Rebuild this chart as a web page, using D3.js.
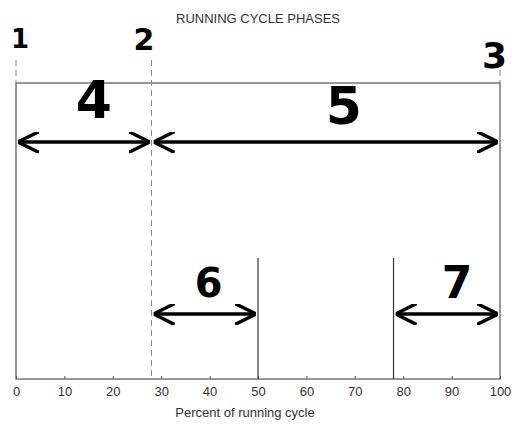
<!DOCTYPE html>
<html><head><meta charset="utf-8">
<script src="https://cdn.jsdelivr.net/npm/d3@7"></script>
<style>body{margin:0;background:#fff}</style>
</head><body>
<svg id="chart" width="530" height="442"></svg>
<script>
// data
const ticks = [0, 10, 20, 30, 40, 50, 60, 70, 80, 90, 100];
const dashedMarks = [0, 28, 100];
const solidMarks = [50, 78];
const topArrows = [[0, 28], [28, 100]];
const lowArrows = [[28, 50], [78, 100]];
const labels = [
  {t: "1", v: 0, dx: -5, y: 48, s: 26},
  {t: "2", v: 28, dx: -18, y: 50, s: 30},
  {t: "3", v: 100, dx: -18, y: 68, s: 36},
  {t: "4", v: 14, dx: -8, y: 118, s: 52},
  {t: "5", v: 64, dx: 0, y: 124, s: 52},
  {t: "6", v: 39, dx: -10, y: 297, s: 40},
  {t: "7", v: 89, dx: -5, y: 298, s: 44}
];

const svg = d3.select('#chart');
const x = d3.scaleLinear().domain([0, 100]).range([16, 500]);
const plotTop = 83, plotBottom = 379;

svg.append('text').attr('x', 258).attr('y', 23).attr('text-anchor', 'middle')
  .style('font', '13px Liberation Sans, Arial').style('fill', '#333').text('RUNNING CYCLE PHASES');

// frame
svg.append('rect').attr('x', x(0)).attr('y', plotTop).attr('width', x(100) - x(0)).attr('height', plotBottom - plotTop)
  .style('fill', 'none').style('stroke', '#555').style('stroke-width', 1.2);

// dashed guides
dashedMarks.forEach(v => {
  svg.append('line').attr('x1', x(v)).attr('x2', x(v)).attr('y1', 60).attr('y2', v === 28 ? plotBottom : plotTop)
    .style('stroke', '#888').style('stroke-dasharray', '6,4');
});
solidMarks.forEach(v => {
  svg.append('line').attr('x1', x(v)).attr('x2', x(v)).attr('y1', 258).attr('y2', plotBottom)
    .style('stroke', '#333').style('stroke-width', 1.2);
});

// axis
const axis = svg.append('g').attr('transform', `translate(0,${plotBottom})`)
  .call(d3.axisBottom(x).tickValues(ticks).tickSizeInner(-3).tickSizeOuter(0).tickPadding(8));
axis.select('.domain').remove();
axis.selectAll('line').style('stroke', '#555');
axis.selectAll('text').style('font', '13px Liberation Sans, Arial').style('fill', '#333');
svg.append('text').attr('x', 245).attr('y', 417).attr('text-anchor', 'middle')
  .style('font', '13px Liberation Sans, Arial').style('fill', '#333').text('Percent of running cycle');

// arrows
const defs = svg.append('defs');
defs.append('marker').attr('id', 'ah').attr('viewBox', '0 0 10 10').attr('refX', 10).attr('refY', 5)
  .attr('markerWidth', 6).attr('markerHeight', 6).attr('orient', 'auto-start-reverse')
  .attr('markerUnits', 'strokeWidth')
  .append('path').attr('d', 'M0,0 L10,5 L0,10').style('fill', 'none').style('stroke', '#000').style('stroke-width', 1.6);
function arrows(list, y) {
  list.forEach(([a, b]) => {
    svg.append('line').attr('x1', x(a) + 2).attr('x2', x(b) - 2).attr('y1', y).attr('y2', y)
      .style('stroke', '#000').style('stroke-width', 3.5)
      .attr('marker-start', 'url(#ah)').attr('marker-end', 'url(#ah)');
  });
}
arrows(topArrows, 142);
arrows(lowArrows, 314);

// handwritten numbers
labels.forEach(d => {
  svg.append('text').attr('x', x(d.v) + d.dx).attr('y', d.y)
    .style('font', `bold ${d.s}px "Comic Sans MS", "DejaVu Sans", sans-serif`).style('fill', '#000').text(d.t);
});
</script>
</body></html>
